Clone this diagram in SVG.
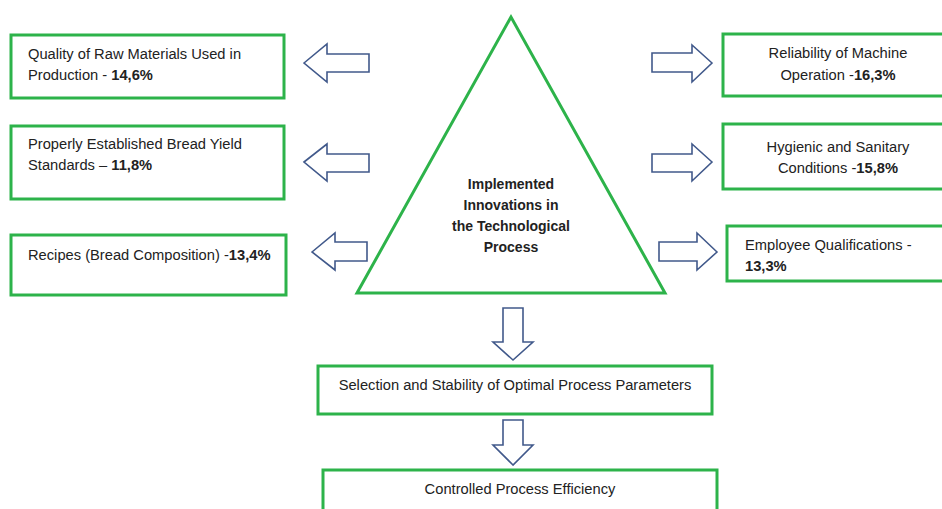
<svg xmlns="http://www.w3.org/2000/svg" width="942" height="509" viewBox="0 0 942 509">
<style>
.box{fill:#fff;stroke:#2db34a;stroke-width:3}
.arr{fill:#fff;stroke:#41598b;stroke-width:1.6;stroke-linejoin:miter}
text{font-family:"Liberation Sans",Arial,sans-serif;font-size:14.7px;fill:#222}
.b{font-weight:bold}
.c{text-anchor:middle}
.t{font-size:14px}
</style>
<rect width="942" height="509" fill="#fff"/>
<g id="center">
<polygon class="box" points="511,17 357,293 665,293"/>
<text class="b c t" x="511" y="189">Implemented</text>
<text class="b c t" x="511" y="210">Innovations in</text>
<text class="b c t" x="511" y="231">the Technological</text>
<text class="b c t" x="511" y="252">Process</text>
</g>
<g id="n1">
<rect class="box" x="11" y="35" width="273" height="63"/>
<text x="28" y="59">Quality of Raw Materials Used in</text>
<text x="28" y="80">Production - <tspan class="b">14,6%</tspan></text>
</g>
<g id="n2">
<rect class="box" x="11" y="126" width="273" height="73"/>
<text x="28" y="149">Properly Established Bread Yield</text>
<text x="28" y="170">Standards – <tspan class="b">11,8%</tspan></text>
</g>
<g id="n3">
<rect class="box" x="11" y="235" width="275" height="60"/>
<text x="28" y="260">Recipes (Bread Composition) -<tspan class="b">13,4%</tspan></text>
</g>
<g id="n4">
<rect class="box" x="723" y="34" width="232" height="62"/>
<text class="c" x="838" y="58">Reliability of Machine</text>
<text class="c" x="838" y="80">Operation -<tspan class="b">16,3%</tspan></text>
</g>
<g id="n5">
<rect class="box" x="723" y="124" width="232" height="65"/>
<text class="c" x="838" y="152">Hygienic and Sanitary</text>
<text class="c" x="838" y="173">Conditions -<tspan class="b">15,8%</tspan></text>
</g>
<g id="n6">
<rect class="box" x="727" y="226" width="228" height="55"/>
<text x="745" y="250">Employee Qualifications -</text>
<text class="b" x="745" y="271">13,3%</text>
</g>
<g id="n7">
<rect class="box" x="318" y="366" width="394" height="48"/>
<text class="c" x="515" y="390">Selection and Stability of Optimal Process Parameters</text>
</g>
<g id="n8">
<rect class="box" x="323" y="470" width="394" height="50"/>
<text class="c" x="520" y="494">Controlled Process Efficiency</text>
</g>
<g id="connectors">
<polygon class="arr" points="304,63 327,44 327,54 369,54 369,72 327,72 327,82"/>
<polygon class="arr" points="304,162 327,144 327,154 369,154 369,172 327,172 327,181"/>
<polygon class="arr" points="312,252 335,233 335,242 367,242 367,261 335,261 335,270"/>
<polygon class="arr" points="712,63 692,45 692,53 652,53 652,72 692,72 692,82"/>
<polygon class="arr" points="712,162 692,144 692,154 652,154 652,172 692,172 692,181"/>
<polygon class="arr" points="717,252 697,233 697,242 659,242 659,261 697,261 697,270"/>
<polygon class="arr" points="513,360 493,342 503,342 503,308 523,308 523,342 533,342"/>
<polygon class="arr" points="513,465 493,445 503,445 503,420 523,420 523,445 533,445"/>
</g>
</svg>
